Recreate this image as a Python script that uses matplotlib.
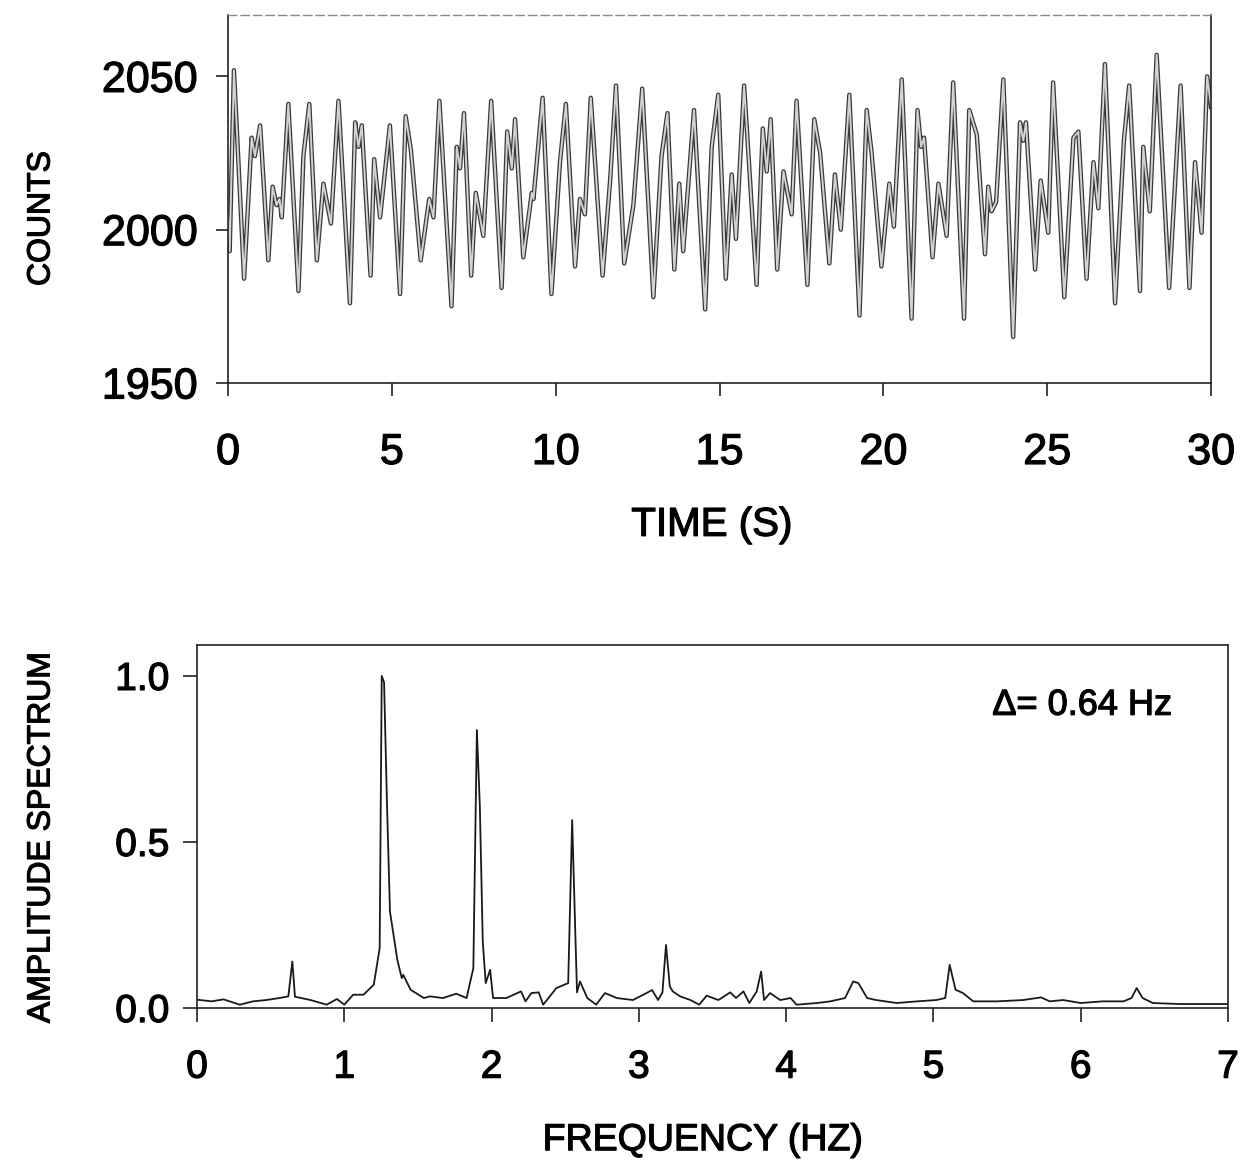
import matplotlib
matplotlib.use('Agg')
import matplotlib.pyplot as plt
import matplotlib.patheffects as pe

# time trace, counts vs seconds (turning points of the record)
time_s = [0.00, 0.05, 0.18, 0.49, 0.72, 0.82, 0.98, 1.23, 1.36, 1.48, 1.57, 1.64,
          1.84, 2.15, 2.30, 2.48, 2.71, 2.91, 3.14, 3.37, 3.72, 3.88, 3.98, 4.08,
          4.35, 4.46, 4.64, 4.94, 5.25, 5.42, 5.58, 5.88, 6.14, 6.27, 6.45, 6.82,
          6.98, 7.08, 7.20, 7.42, 7.56, 7.79, 8.03, 8.35, 8.52, 8.66, 8.76, 9.01,
          9.27, 9.32, 9.60, 9.87, 10.13, 10.31, 10.59, 10.74, 10.89, 11.07, 11.43,
          11.66, 11.84, 12.09, 12.37, 12.64, 12.98, 13.23, 13.41, 13.62, 13.77,
          13.89, 14.22, 14.56, 14.76, 14.96, 15.19, 15.37, 15.50, 15.75, 16.13,
          16.32, 16.44, 16.56, 16.76, 16.95, 17.20, 17.35, 17.68, 17.89, 18.07,
          18.35, 18.52, 18.70, 18.96, 19.27, 19.49, 19.64, 19.94, 20.18, 20.32,
          20.56, 20.86, 21.04, 21.15, 21.24, 21.50, 21.68, 21.93, 22.13, 22.46,
          22.62, 22.85, 23.10, 23.20, 23.30, 23.44, 23.66, 23.96, 24.17, 24.27,
          24.35, 24.63, 24.80, 25.03, 25.18, 25.52, 25.80, 25.95, 26.20, 26.41,
          26.56, 26.76, 27.07, 27.34, 27.50, 27.83, 27.93, 28.13, 28.34, 28.72,
          29.07, 29.34, 29.51, 29.71, 29.88, 30.00]
counts = [2005, 1993, 2052, 1984, 2030, 2024, 2034, 1990, 2014, 2008, 2010, 2004,
          2041, 1980, 2024, 2041, 1990, 2015, 2002, 2042, 1976, 2035, 2027, 2034,
          1985, 2023, 2004, 2034, 1979, 2037, 2026, 1990, 2010, 2004, 2042, 1975,
          2027, 2020, 2038, 1985, 2012, 1998, 2042, 1981, 2032, 2020, 2036, 1991,
          2012, 2010, 2043, 1979, 2022, 2041, 1988, 2010, 2005, 2043, 1985,
          2016, 2047, 1989, 2008, 2046, 1978, 2024, 2038, 1987, 2015,
          1993, 2039, 1974, 2027, 2044, 1984, 2018, 1997, 2047, 1982,
          2033, 2019, 2036, 1987, 2019, 2005, 2042, 1982, 2036, 2025,
          1989, 2018, 2000, 2044, 1972, 2039, 2025, 1988, 2015, 2001,
          2049, 1971, 2039, 2027, 2030, 1991, 2015, 1998, 2048, 1971,
          2039, 2031, 1992, 2014, 2006, 2009, 2049, 1965, 2035, 2029,
          2035, 1987, 2016, 1999, 2048, 1978, 2030, 2032, 1984, 2022,
          2007, 2054, 1976, 2029, 2047, 1980, 2027, 2006, 2057, 1981,
          2047, 1981, 2022, 1999, 2050, 2040]

# amplitude spectrum, normalised to the largest peak
freq_hz = [0.00, 0.02, 0.10, 0.18, 0.29, 0.38, 0.47, 0.56, 0.62, 0.647, 0.665,
           0.77, 0.88, 0.95, 1.00, 1.06, 1.13, 1.20, 1.24, 1.254, 1.27, 1.29,
           1.31, 1.36, 1.39, 1.40, 1.45, 1.54, 1.58, 1.67, 1.76, 1.83, 1.876,
           1.90, 1.92, 1.94, 1.96, 1.99, 2.01, 2.10, 2.20, 2.23, 2.27, 2.32,
           2.35, 2.44, 2.52, 2.547, 2.57, 2.58, 2.60, 2.65, 2.71, 2.77, 2.85,
           2.96, 3.03, 3.09, 3.13, 3.16, 3.184, 3.21, 3.23, 3.28, 3.35, 3.41,
           3.46, 3.54, 3.62, 3.66, 3.71, 3.75, 3.80, 3.83, 3.85, 3.89, 3.96,
           4.03, 4.07, 4.21, 4.30, 4.40, 4.455, 4.49, 4.55, 4.61, 4.75, 4.89,
           5.02, 5.08, 5.11, 5.15, 5.20, 5.27, 5.43, 5.61, 5.73, 5.79, 5.88,
           6.00, 6.15, 6.29, 6.345, 6.38, 6.42, 6.49, 6.67, 6.97, 7.00]
amplitude = [0.025, 0.024, 0.020, 0.026, 0.010, 0.020, 0.024, 0.030, 0.035, 0.140, 0.034,
             0.024, 0.010, 0.027, 0.010, 0.040, 0.040, 0.070, 0.180, 1.000, 0.980, 0.610,
             0.290, 0.145, 0.090, 0.100, 0.055, 0.030, 0.035, 0.030, 0.043, 0.030, 0.120,
             0.837, 0.610, 0.200, 0.075, 0.115, 0.030, 0.030, 0.050, 0.020, 0.045, 0.047,
             0.010, 0.060, 0.075, 0.566, 0.200, 0.047, 0.080, 0.030, 0.010, 0.045, 0.030,
             0.024, 0.040, 0.054, 0.024, 0.047, 0.190, 0.065, 0.050, 0.035, 0.024, 0.010,
             0.037, 0.024, 0.047, 0.030, 0.050, 0.015, 0.050, 0.110, 0.024, 0.045, 0.024,
             0.030, 0.010, 0.015, 0.020, 0.030, 0.080, 0.075, 0.030, 0.024, 0.015, 0.020,
             0.024, 0.030, 0.130, 0.055, 0.045, 0.020, 0.020, 0.024, 0.032, 0.020, 0.024,
             0.015, 0.020, 0.020, 0.030, 0.060, 0.030, 0.015, 0.012, 0.012, 0.012]

spacing_label = '\u0394= 0.64 Hz'

plt.rcParams['font.family'] = ['Liberation Sans', 'DejaVu Sans']

# slightly heavier glyphs, like a photocopied print
ink = [pe.withStroke(linewidth=0.9, foreground='black')]

fig = plt.figure(figsize=(12.55, 11.74), dpi=100)

# --- counts vs time ---
ax1 = fig.add_axes([0.1817, 0.6738, 0.7833, 0.3134])
ax1.plot(time_s, counts, color='#3a3a3a', lw=3.2, solid_joinstyle='round')
ax1.plot(time_s, counts, color='#d2d2d2', lw=1.4, solid_joinstyle='round')
ax1.set_xlim(0, 30)
ax1.set_ylim(1950, 2070)
ax1.set_xticks([0, 5, 10, 15, 20, 25, 30])
ax1.set_yticks([1950, 2000, 2050])
ax1.tick_params(direction='out', length=9, width=1.2, color='#222222', labelsize=31)
ax1.tick_params(axis='x', pad=27)
ax1.tick_params(axis='y', pad=13)
for lab in ax1.get_xticklabels() + ax1.get_yticklabels():
    lab.set_path_effects(ink)
for side in ['left', 'bottom', 'right']:
    ax1.spines[side].set_color('#222222')
    ax1.spines[side].set_linewidth(1.2)
ax1.spines['top'].set_color('#8a8a8a')
ax1.spines['top'].set_linewidth(1.0)
ax1.spines['top'].set_linestyle((0, (6, 3)))

fig.text(0.033, 0.814, 'COUNTS', rotation=90, ha='center', va='center',
         fontsize=23, path_effects=ink)
fig.text(0.567, 0.553, 'TIME (S)', ha='center', va='center', fontsize=29,
         path_effects=ink)

# --- amplitude spectrum ---
ax2 = fig.add_axes([0.157, 0.1414, 0.8215, 0.3092])
ax2.plot(freq_hz, amplitude, color='#1a1a1a', lw=1.3)
ax2.set_xlim(0, 7)
ax2.set_ylim(0, 1.093)
ax2.set_xticks(range(8))
ax2.set_yticks([0.0, 0.5, 1.0])
ax2.set_yticklabels(['0.0', '0.5', '1.0'])
ax2.tick_params(direction='out', length=10, width=1.2, color='#222222', labelsize=28)
ax2.tick_params(axis='x', pad=20)
ax2.tick_params(axis='y', pad=10)
for lab in ax2.get_xticklabels() + ax2.get_yticklabels():
    lab.set_path_effects(ink)
for side in ax2.spines:
    ax2.spines[side].set_color('#222222')
    ax2.spines[side].set_linewidth(1.2)
ax2.text(5.40, 0.883, spacing_label, fontsize=26, ha='left', va='baseline',
         path_effects=ink)

fig.text(0.033, 0.287, 'AMPLITUDE SPECTRUM', rotation=90, ha='center', va='center',
         fontsize=23, path_effects=ink)
fig.text(0.560, 0.0135, 'FREQUENCY (HZ)', ha='center', va='bottom', fontsize=27,
         path_effects=ink)

fig.savefig('out.png', dpi=100)
